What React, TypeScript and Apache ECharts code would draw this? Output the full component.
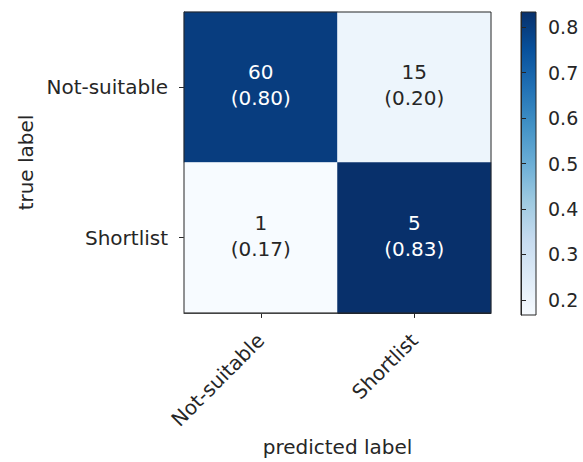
import React, { useEffect, useRef } from "react";
import * as echarts from "echarts";

// Confusion matrix: rows are true labels, columns are predicted labels
const predictedLabels = ["Not-suitable", "Shortlist"];
const trueLabels = ["Not-suitable", "Shortlist"];
const counts = [
  [60, 15],
  [1, 5],
];
const colorbarTicks = [0.2, 0.3, 0.4, 0.5, 0.6, 0.7, 0.8];

// Matplotlib "Blues" colormap stops
const BLUES = [
  "#f7fbff",
  "#deebf7",
  "#c6dbef",
  "#9ecae1",
  "#6baed6",
  "#4292c6",
  "#2171b5",
  "#08519c",
  "#08306b",
];

const FONT = "DejaVu Sans";
const TEXT = "#262626";

export default function App() {
  const ref = useRef<HTMLDivElement>(null);

  useEffect(() => {
    document.body.style.margin = "0";
    if (!ref.current) return;
    const chart = echarts.init(ref.current, undefined, { renderer: "svg" });

    // row-normalised rates
    const rates = counts.map((row) => {
      const total = row.reduce((a, b) => a + b, 0);
      return row.map((v) => v / total);
    });
    const flat = rates.flat();
    const vmin = Math.min(...flat);
    const vmax = Math.max(...flat);
    const threshold = vmax / 2;

    const data: any[] = [];
    counts.forEach((row, i) => {
      row.forEach((c, j) => {
        const r = rates[i][j];
        data.push({
          value: [j, i, r, c],
          label: { color: r > threshold ? "#ffffff" : TEXT },
        });
      });
    });

    const gradient = new echarts.graphic.LinearGradient(
      0,
      1,
      0,
      0,
      BLUES.map((c, i) => ({ offset: i / (BLUES.length - 1), color: c }))
    );

    const axisLineStyle = { color: TEXT, width: 1 };

    chart.setOption({
      animation: false,
      backgroundColor: "#ffffff",
      textStyle: { fontFamily: FONT },
      grid: [
        {
          left: 184,
          top: 12,
          width: 307,
          height: 303,
          show: true,
          borderColor: TEXT,
          borderWidth: 1,
          backgroundColor: "transparent",
          z: 3,
        },
        {
          left: 521,
          top: 12,
          width: 15,
          height: 303,
          show: true,
          borderColor: TEXT,
          borderWidth: 1,
          backgroundColor: gradient,
        },
      ],
      xAxis: [
        {
          type: "category",
          gridIndex: 0,
          data: predictedLabels,
          name: "predicted label",
          nameLocation: "middle",
          nameGap: 123,
          nameTextStyle: { fontSize: 20, color: TEXT, fontFamily: FONT },
          axisLine: { show: true, lineStyle: axisLineStyle },
          axisTick: { show: true, alignWithLabel: true, length: 5, lineStyle: axisLineStyle },
          axisLabel: {
            rotate: 45,
            fontSize: 20,
            color: TEXT,
            fontFamily: FONT,
            margin: 24,
            interval: 0,
          },
          splitLine: { show: false },
        },
        {
          type: "value",
          gridIndex: 1,
          show: false,
          min: 0,
          max: 1,
        },
      ],
      yAxis: [
        {
          type: "category",
          gridIndex: 0,
          data: trueLabels,
          inverse: true,
          name: "true label",
          nameLocation: "middle",
          nameGap: 148,
          nameTextStyle: { fontSize: 20, color: TEXT, fontFamily: FONT },
          axisLine: { show: true, lineStyle: axisLineStyle },
          axisTick: { show: true, alignWithLabel: true, length: 5, lineStyle: axisLineStyle },
          axisLabel: { fontSize: 20, color: TEXT, fontFamily: FONT, margin: 16, interval: 0 },
          splitLine: { show: false },
        },
        {
          type: "value",
          gridIndex: 1,
          position: "right",
          min: vmin,
          max: vmax,
          axisLine: { show: true, lineStyle: axisLineStyle },
          axisTick: {
            show: true,
            inside: false,
            length: 5,
            lineStyle: axisLineStyle,
            customValues: colorbarTicks,
          },
          axisLabel: {
            fontSize: 19,
            color: TEXT,
            fontFamily: FONT,
            margin: 12,
            customValues: colorbarTicks,
            formatter: (v: number) => v.toFixed(1),
          },
          splitLine: { show: false },
        },
      ],
      visualMap: {
        show: false,
        seriesIndex: 0,
        dimension: 2,
        min: vmin,
        max: vmax,
        inRange: { color: BLUES },
      },
      series: [
        {
          type: "heatmap",
          xAxisIndex: 0,
          yAxisIndex: 0,
          data,
          itemStyle: { borderWidth: 0 },
          label: {
            show: true,
            fontSize: 20,
            fontFamily: FONT,
            lineHeight: 26,
            offset: [0, -2],
            formatter: (p: any) => `${p.value[3]}\n(${p.value[2].toFixed(2)})`,
          },
          emphasis: { disabled: true },
        },
      ],
    });

    return () => chart.dispose();
  }, []);

  return <div ref={ref} style={{ width: 583, height: 462 }} />;
}
